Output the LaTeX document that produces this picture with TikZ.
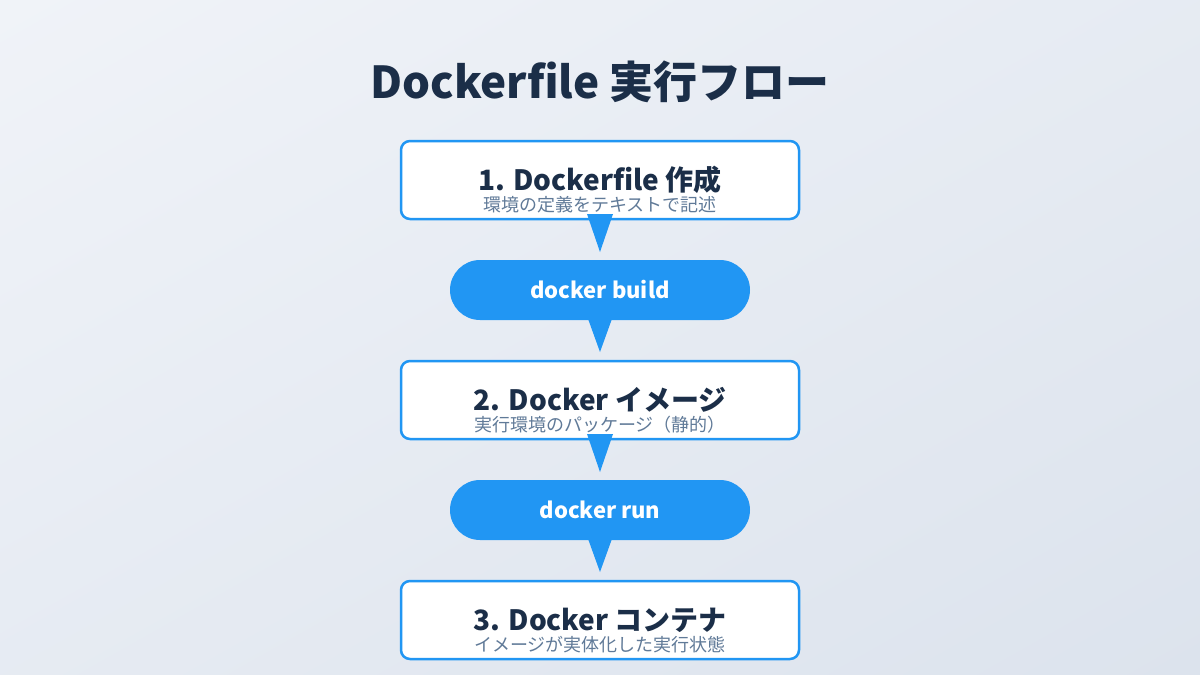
\documentclass[tikz,border=0pt]{standalone}
\usepackage{fontspec}
\usetikzlibrary{shadings}
\setmainfont{Noto Sans CJK JP}
\definecolor{bgA}{HTML}{F0F3F8}
\definecolor{bgB}{HTML}{DCE3ED}
\definecolor{navy}{HTML}{1B2E48}
\definecolor{blue}{HTML}{2196F3}
\definecolor{sub}{HTML}{607A98}
\begin{document}
\begin{tikzpicture}[x=1pt,y=-1pt,
 box/.style={draw=blue,line width=2.5pt,fill=white,rounded corners=9pt,minimum width=398pt,minimum height=78pt},
 pill/.style={fill=blue,rounded corners=30pt,minimum width=300pt,minimum height=60pt,text=white,font=\bfseries\fontsize{22}{26}\selectfont},
 ttl/.style={text=navy,font=\bfseries\fontsize{28}{32}\selectfont},
 st/.style={text=sub,font=\fontsize{18}{20}\selectfont},
 tri/.style={fill=blue}]
\shade[upper left=bgA,upper right=bgA!50!bgB,lower left=bgA!50!bgB,lower right=bgB] (0,0) rectangle (1200,675);
\useasboundingbox (0,0) rectangle (1200,675);
\node[text=navy,font=\bfseries\fontsize{44}{50}\selectfont] (title) at (600,82) {Dockerfile 実行フロー};
\node[box] (b1) at (600,180) {};
\node[ttl] (t1) at (600,180) {1. Dockerfile 作成};
\node[st] (s1) at (600,205) {環境の定義をテキストで記述};
\node[pill] (p1) at (600,290) {docker build};
\node[box] (b2) at (600,400) {};
\node[ttl] (t2) at (600,400) {2. Docker イメージ};
\node[st] (s2) at (600,425) {実行環境のパッケージ（静的）};
\node[pill] (p2) at (600,510) {docker run};
\node[box] (b3) at (600,620) {};
\node[ttl] (t3) at (600,620) {3. Docker コンテナ};
\node[st] (s3) at (600,645) {イメージが実体化した実行状態};
\coordinate (a1) at (600,252); \coordinate (a2) at (600,352);
\coordinate (a3) at (600,472); \coordinate (a4) at (600,572);
\fill[tri] (587,214) -- (613,214) -- (a1) -- cycle;
\fill[tri] (587,316) -- (613,316) -- (a2) -- cycle;
\fill[tri] (587,434) -- (613,434) -- (a3) -- cycle;
\fill[tri] (587,536) -- (613,536) -- (a4) -- cycle;
\end{tikzpicture}
\end{document}
